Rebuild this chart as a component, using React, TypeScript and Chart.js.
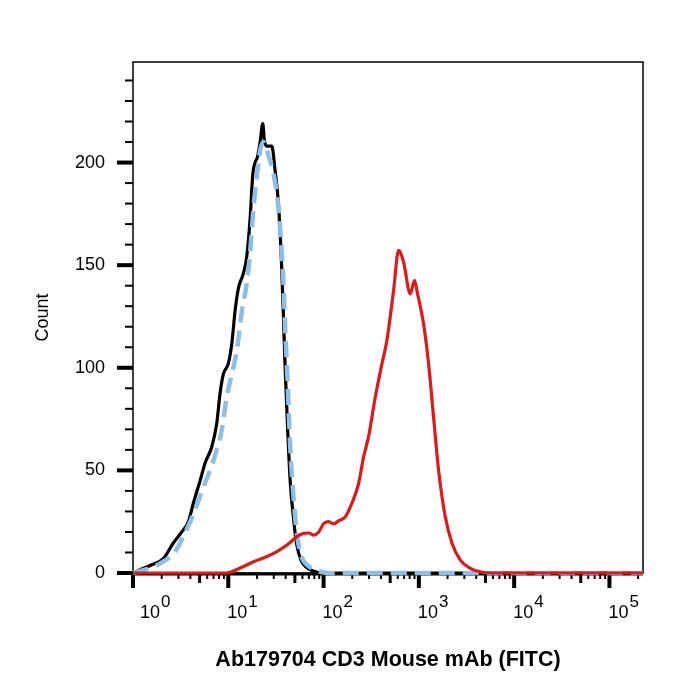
import { useEffect, useRef } from "react";
import { Chart, registerables } from "chart.js";

Chart.register(...registerables);

const FONT = '"Liberation Sans", Arial, Helvetica, sans-serif';

// Black (unstained / isotype) histogram
const blackX = [1, 1.18, 1.57, 2.08, 2.65, 3.25, 3.81, 4.3, 5.06, 5.7, 6.71, 7.57, 8.2, 8.89, 10.0, 10.9, 11.8, 12.8, 14.4, 15.6, 16.9, 18.1, 19.1, 20.2, 21.6, 23.0, 23.9, 25.4, 28.6, 31.0, 33.6, 35.9, 37.6, 39.5, 42.0, 44.6, 48.0, 52.2, 58.2, 67.2, 77.8, 96.7, 225000];
const blackY = [0, 1.5, 4, 7, 14.6, 20, 25, 34, 45, 53.5, 61.5, 73, 87.6, 97, 102, 112, 128, 139, 146, 154, 172, 194.5, 200, 202.6, 210, 219, 211, 208, 208, 196, 180, 155, 130, 100, 70, 45, 28, 14, 6, 2.5, 1, 0, 0];

// Blue dashed histogram
const blueX = [1, 1.51, 2.08, 2.76, 3.52, 4.48, 5.48, 6.44, 7.57, 8.54, 9.64, 10.9, 12.3, 13.9, 15.6, 16.9, 18.4, 19.9, 21.6, 23.4, 25.4, 28.6, 32.3, 35.0, 37.9, 39.5, 42.0, 44.6, 48.0, 52.2, 58.2, 66.8, 77.8, 95, 110, 225000];
const blueY = [0, 2.4, 5.5, 10.4, 19.5, 30.7, 42, 50, 60, 69.6, 86, 97, 108.5, 128, 141, 155.6, 178, 193, 206, 210, 206, 198, 185, 168, 142, 120, 92, 62, 39, 20, 8.5, 4, 2, 0.5, 0, 0];

// Red (CD3 stained) histogram
const redX = [1, 9.6, 13.3, 18.4, 25.4, 32.3, 41.2, 52.5, 61.5, 70, 78.3, 89, 99.8, 112, 127, 145, 169, 198, 233, 263, 296, 349, 410, 462, 543, 612, 691, 812, 901, 969, 1119, 1264, 1426, 1611, 1893, 2227, 2722, 3467, 4413, 5620, 225000];
const redY = [0, 0, 2.4, 5.5, 8, 10.4, 13.6, 17.7, 19.3, 19.5, 18.5, 20, 24, 25, 24, 25.5, 27.4, 34, 43.6, 56.6, 66.3, 85.8, 102, 113.4, 137.7, 157.2, 151.5, 136, 142.6, 136, 121.4, 102, 76, 50, 27.4, 14.5, 6.3, 2.3, 0.6, 0, 0];

const xMajorTicks = [1, 10, 100, 1000, 10000, 100000];
const xTickExponents = ["0", "1", "2", "3", "4", "5"];
const xMinorMantissas = [2, 3, 4, 6, 7, 8, 9];
const xMidMantissas = [5];
const yMajorTicks = [0, 50, 100, 150, 200];
const yMinorTicks = [10, 20, 30, 40, 60, 70, 80, 90, 110, 120, 130, 140, 160, 170, 180, 190, 210, 220, 230, 240];
const xTitle = "Ab179704 CD3 Mouse mAb (FITC)";
const yTitle = "Count";
const xMin = 1;
const xMax = 225000;
const yMin = 0;
const yMax = 249;

function pts(xs: number[], ys: number[]) {
  return xs.map((x, i) => ({ x, y: ys[i] }));
}

const decorPlugin = {
  id: "decor",
  beforeDatasetsDraw(chart: any) {
    const { ctx, chartArea: a, scales } = chart;
    const xs = scales.x;
    const ys = scales.y;
    ctx.save();
    ctx.strokeStyle = "#000";
    ctx.fillStyle = "#000";
    ctx.lineWidth = 1.5;
    ctx.strokeRect(a.left, a.top, a.right - a.left, a.bottom - a.top);
    ctx.lineWidth = 3;
    ctx.beginPath();
    ctx.moveTo(a.left, a.bottom + 1);
    ctx.lineTo(a.right, a.bottom + 1);
    ctx.stroke();

    const drawX = (v: number, len: number, w: number) => {
      if (v < xMin || v > xMax) return;
      const px = xs.getPixelForValue(v);
      ctx.fillRect(px - w / 2, a.bottom, w, len);
    };
    xMajorTicks.forEach((d) => {
      drawX(d, 15, 4);
      xMidMantissas.forEach((m) => drawX(m * d, 10, 3));
      xMinorMantissas.forEach((m) => drawX(m * d, 6, 2));
    });

    const drawY = (v: number, len: number, w: number) => {
      const py = ys.getPixelForValue(v);
      ctx.fillRect(a.left - len, py - w / 2, len, w);
    };
    yMajorTicks.forEach((v) => drawY(v, 16, 4));
    yMinorTicks.forEach((v) => drawY(v, 8, 2));

    ctx.textAlign = "left";
    ctx.textBaseline = "alphabetic";
    xMajorTicks.forEach((v, i) => {
      const px = xs.getPixelForValue(v) + (i === 0 ? 7 : -1);
      ctx.font = `18px ${FONT}`;
      ctx.fillText("10", px, a.bottom + 45);
      const w = ctx.measureText("10").width;
      ctx.font = `17px ${FONT}`;
      ctx.fillText(xTickExponents[i], px + w + 1, a.bottom + 34);
    });
    ctx.restore();
  },
};

export default function App() {
  const ref = useRef<HTMLCanvasElement | null>(null);
  useEffect(() => {
    if (!ref.current) return;
    const common = { pointRadius: 0, fill: false, cubicInterpolationMode: "monotone" as const, clip: 6 };
    const chart = new Chart(ref.current, {
      type: "line",
      data: {
        datasets: [
          { ...common, label: "red", data: pts(redX, redY), borderColor: "#dd1a1a", borderWidth: 3.2 },
          { ...common, label: "blue", data: pts(blueX, blueY), borderColor: "#8cbfe8", borderWidth: 4.5, borderDash: [16, 8] },
          { ...common, label: "black", data: pts(blackX, blackY), borderColor: "#000000", borderWidth: 3.2 },
        ],
      },
      options: {
        animation: false,
        responsive: true,
        maintainAspectRatio: false,
        parsing: false as any,
        layout: { padding: { top: 62, right: 57, left: 0, bottom: 0 } },
        plugins: { legend: { display: false }, tooltip: { enabled: false } },
        scales: {
          x: {
            type: "logarithmic",
            min: xMin,
            max: xMax,
            grid: { display: false, drawTicks: false },
            border: { display: false },
            ticks: { display: false },
            afterBuildTicks: (s: any) => {
              s.ticks = xMajorTicks.map((v) => ({ value: v }));
            },
            afterFit: (s: any) => {
              s.height = 127;
            },
            title: {
              display: true,
              text: xTitle,
              color: "#000",
              font: { family: FONT, size: 21.5, weight: "bold" },
              padding: { top: 0, bottom: 26.6 },
            },
          },
          y: {
            type: "linear",
            min: yMin,
            max: yMax,
            grid: { display: false, drawTicks: false },
            border: { display: false },
            ticks: { color: "#000", font: { family: FONT, size: 18 }, padding: 28 },
            afterBuildTicks: (s: any) => {
              s.ticks = yMajorTicks.map((v) => ({ value: v }));
            },
            afterFit: (s: any) => {
              s.width = 133;
            },
            title: {
              display: true,
              text: yTitle,
              color: "#000",
              font: { family: FONT, size: 18 },
              padding: { top: 32, bottom: 0 },
            },
          },
        },
      } as any,
      plugins: [decorPlugin],
    });
    return () => chart.destroy();
  }, []);
  return (
    <div style={{ position: "fixed", left: 0, top: 0, width: 700, height: 700, background: "#fff" }}>
      <canvas ref={ref} />
    </div>
  );
}
